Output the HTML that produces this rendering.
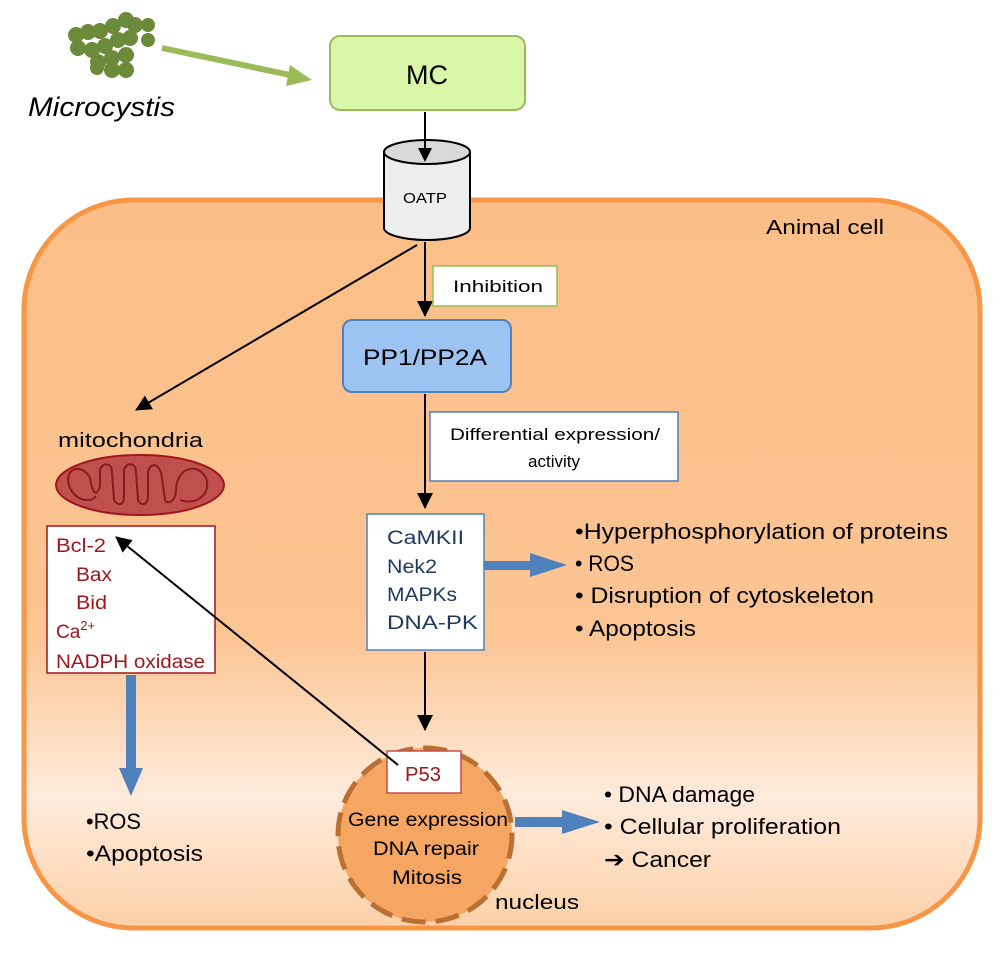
<!DOCTYPE html>
<html><head><meta charset="utf-8"><style>
html,body{margin:0;padding:0;background:#fff;}
svg text{font-family:"Liberation Sans",sans-serif;}
</style></head><body>
<svg width="1000" height="950" viewBox="0 0 1000 950" xmlns="http://www.w3.org/2000/svg">
<defs>
<linearGradient id="cg" x1="0" y1="0" x2="0" y2="1">
<stop offset="0" stop-color="#FBBE87"/>
<stop offset="0.6" stop-color="#FCC594"/>
<stop offset="0.82" stop-color="#FEEBDC"/>
<stop offset="1" stop-color="#FDD0A8"/>
</linearGradient>
<marker id="ah2" markerWidth="16" markerHeight="16" refX="15" refY="8" orient="auto" markerUnits="userSpaceOnUse"><path d="M0,0 L16,8 L0,16 z" fill="#000"/></marker>
</defs>
<rect x="24" y="200" width="956" height="728" rx="110" fill="url(#cg)" stroke="#F79646" stroke-width="5"/>
<text x="766" y="234" font-size="20" textLength="118" lengthAdjust="spacingAndGlyphs">Animal cell</text>
<g fill="#6B8B3B">
<circle cx="76" cy="35" r="8"/><circle cx="88" cy="32" r="8"/><circle cx="100" cy="31" r="8"/><circle cx="113" cy="26" r="8"/><circle cx="126" cy="20" r="8"/><circle cx="135" cy="25" r="8"/><circle cx="148" cy="25" r="7"/><circle cx="148" cy="40" r="7"/>
<circle cx="78" cy="48" r="8"/><circle cx="92" cy="50" r="8"/><circle cx="105" cy="46" r="8"/><circle cx="118" cy="40" r="8"/><circle cx="130" cy="38" r="8"/>
<circle cx="98" cy="62" r="8"/><circle cx="112" cy="58" r="8"/><circle cx="126" cy="55" r="8"/><circle cx="112" cy="70" r="8"/><circle cx="126" cy="70" r="8"/><circle cx="97" cy="68" r="7"/>
</g>
<line x1="162" y1="48" x2="290" y2="75" stroke="#9BBB59" stroke-width="6"/>
<path d="M312,80 L290,65 L286,86 z" fill="#9BBB59"/>
<text x="28" y="116" font-size="27" font-style="italic" textLength="147" lengthAdjust="spacingAndGlyphs">Microcystis</text>
<rect x="330" y="36" width="195" height="74" rx="10" fill="#D9F6A9" stroke="#9BBB59" stroke-width="2"/>
<text x="427" y="84" font-size="27" text-anchor="middle">MC</text>
<line x1="425" y1="112" x2="425" y2="156" stroke="#000" stroke-width="2" marker-end="url(#ah2)"/>
<path d="M384,152 L384,228 A43,12 0 0 0 470,228 L470,152" fill="#EDEDED" stroke="#000" stroke-width="2"/>
<ellipse cx="427" cy="152" rx="43" ry="12" fill="#D9D9D9" stroke="#000" stroke-width="2"/>
<line x1="425" y1="140" x2="425" y2="160" stroke="#000" stroke-width="2"/>
<path d="M418,148 L432,148 L425,162 z" fill="#000"/>
<text x="425" y="203" font-size="15" text-anchor="middle" textLength="44" lengthAdjust="spacingAndGlyphs">OATP</text>
<line x1="425" y1="242" x2="425" y2="316" stroke="#000" stroke-width="2" marker-end="url(#ah2)"/>
<line x1="417" y1="245" x2="136" y2="410" stroke="#000" stroke-width="2" marker-end="url(#ah2)"/>
<rect x="433" y="266" width="124" height="40" fill="#fff" stroke="#9BBB59" stroke-width="1.5"/>
<text x="453" y="292" font-size="17" textLength="90" lengthAdjust="spacingAndGlyphs">Inhibition</text>
<rect x="343" y="320" width="168" height="72" rx="9" fill="#9DC3F3" stroke="#4F81BD" stroke-width="2"/>
<text x="363" y="365" font-size="22" textLength="124" lengthAdjust="spacingAndGlyphs">PP1/PP2A</text>
<line x1="425" y1="394" x2="425" y2="508" stroke="#000" stroke-width="2" marker-end="url(#ah2)"/>
<rect x="430" y="412" width="248" height="69" fill="#fff" stroke="#4F81BD" stroke-width="1.5"/>
<text x="450" y="440" font-size="17" textLength="210" lengthAdjust="spacingAndGlyphs">Differential expression/</text>
<text x="554" y="467" font-size="17" text-anchor="middle">activity</text>
<rect x="367" y="514" width="117" height="136" fill="#fff" stroke="#4F81BD" stroke-width="1.5"/>
<g font-size="19" fill="#1F3864"><text x="387" y="544" textLength="77" lengthAdjust="spacingAndGlyphs">CaMKII</text><text x="387" y="573" textLength="50" lengthAdjust="spacingAndGlyphs">Nek2</text><text x="387" y="601" textLength="70" lengthAdjust="spacingAndGlyphs">MAPKs</text><text x="387" y="629" textLength="91" lengthAdjust="spacingAndGlyphs">DNA-PK</text></g>
<rect x="484" y="561" width="50" height="9" fill="#4F81BD"/><path d="M530,553 L567,565 L530,577 z" fill="#4F81BD"/>
<g font-size="22"><text x="575" y="539" textLength="373" lengthAdjust="spacingAndGlyphs">•Hyperphosphorylation of proteins</text><text x="575" y="571" textLength="59" lengthAdjust="spacingAndGlyphs">• ROS</text><text x="575" y="603" textLength="299" lengthAdjust="spacingAndGlyphs">• Disruption of cytoskeleton</text><text x="575" y="636" textLength="121" lengthAdjust="spacingAndGlyphs">• Apoptosis</text></g>
<line x1="425" y1="652" x2="425" y2="730" stroke="#000" stroke-width="2" marker-end="url(#ah2)"/>
<text x="58" y="447" font-size="20" textLength="145" lengthAdjust="spacingAndGlyphs">mitochondria</text>
<ellipse cx="140" cy="485" rx="84" ry="30" fill="#C0504D" stroke="#A0161B" stroke-width="2"/>
<path d="M70,488 C62,468 82,462 90,478 C92,490 96,500 100,486 L100,470 C102,462 112,462 112,472 L114,500 C118,506 124,506 124,496 L124,470 C126,462 136,462 136,472 L138,500 C140,506 148,506 148,496 L148,472 C150,462 160,462 162,478 L165,500 C168,506 176,500 176,490 C176,470 196,460 206,478 C212,494 196,506 180,500" fill="none" stroke="#8B1A1A" stroke-width="2"/>
<path d="M70,488 C76,500 90,504 96,496" fill="none" stroke="#8B1A1A" stroke-width="2"/>
<rect x="47" y="526" width="168" height="147" fill="#fff" stroke="#A0161B" stroke-width="1.5"/>
<g font-size="19" fill="#A0161B"><text x="56" y="552" textLength="50" lengthAdjust="spacingAndGlyphs">Bcl-2</text><text x="76" y="581" textLength="36" lengthAdjust="spacingAndGlyphs">Bax</text><text x="76" y="609" textLength="31" lengthAdjust="spacingAndGlyphs">Bid</text><text x="56" y="638">Ca<tspan font-size="13" dy="-8">2+</tspan></text><text x="56" y="668" textLength="149" lengthAdjust="spacingAndGlyphs">NADPH oxidase</text></g>
<rect x="126" y="675" width="10" height="95" fill="#4F81BD"/><path d="M119,768 L143,768 L131,796 z" fill="#4F81BD"/>
<g font-size="22"><text x="86" y="829" textLength="55" lengthAdjust="spacingAndGlyphs">•ROS</text><text x="86" y="861" textLength="117" lengthAdjust="spacingAndGlyphs">•Apoptosis</text></g>
<circle cx="425" cy="835" r="87" fill="#F5A662" stroke="#B97032" stroke-width="5" stroke-dasharray="24,10"/>
<rect x="387" y="751" width="74" height="42" fill="#fff" stroke="#C0504D" stroke-width="1.5"/>
<text x="405" y="781" font-size="20" fill="#A0161B" textLength="36" lengthAdjust="spacingAndGlyphs">P53</text>
<line x1="398" y1="765" x2="116" y2="537" stroke="#000" stroke-width="2" marker-end="url(#ah2)"/>
<g font-size="19"><text x="348" y="826" textLength="160" lengthAdjust="spacingAndGlyphs">Gene expression</text><text x="373" y="855" textLength="106" lengthAdjust="spacingAndGlyphs">DNA repair</text><text x="392" y="884" textLength="70" lengthAdjust="spacingAndGlyphs">Mitosis</text></g>
<text x="495" y="909" font-size="20" textLength="84" lengthAdjust="spacingAndGlyphs">nucleus</text>
<rect x="515" y="817" width="52" height="10" fill="#4F81BD"/><path d="M562,810 L600,822 L562,834 z" fill="#4F81BD"/>
<g font-size="22"><text x="604" y="802" textLength="151" lengthAdjust="spacingAndGlyphs">• DNA damage</text><text x="604" y="834" textLength="237" lengthAdjust="spacingAndGlyphs">• Cellular proliferation</text><text x="604" y="867" textLength="107" lengthAdjust="spacingAndGlyphs">➔ Cancer</text></g>
</svg>
</body></html>
